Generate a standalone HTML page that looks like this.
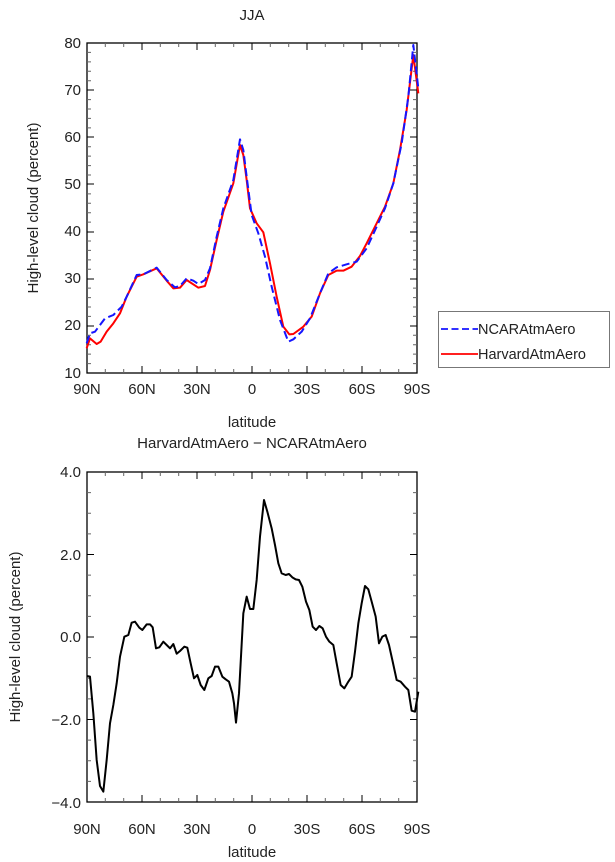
<!DOCTYPE html>
<html><head><style>body{margin:0;background:#fff}svg{display:block}text{font-family:"Liberation Sans",sans-serif;fill:#222}</style></head>
<body>
<svg width="615" height="862" viewBox="0 0 615 862" xmlns="http://www.w3.org/2000/svg">
<g font-size="15">
<text x="252" y="20" text-anchor="middle">JJA</text>
<text x="252" y="448" text-anchor="middle">HarvardAtmAero − NCARAtmAero</text>
<text x="252" y="427" text-anchor="middle">latitude</text>
<text x="252" y="857" text-anchor="middle">latitude</text>
<text transform="translate(38,208) rotate(-90)" text-anchor="middle">High-level cloud (percent)</text>
<text transform="translate(20,637) rotate(-90)" text-anchor="middle">High-level cloud (percent)</text>
<g text-anchor="end">
<text x="81" y="48">80</text><text x="81" y="95">70</text><text x="81" y="142">60</text><text x="81" y="189">50</text><text x="81" y="236">40</text><text x="81" y="283">30</text><text x="81" y="330">20</text><text x="81" y="378">10</text>
<text x="81" y="477">4.0</text><text x="81" y="560">2.0</text><text x="81" y="642">0.0</text><text x="81" y="725">−2.0</text><text x="81" y="808">−4.0</text>
</g>
<g text-anchor="middle">
<text x="87" y="394">90N</text><text x="142" y="394">60N</text><text x="197" y="394">30N</text><text x="252" y="394">0</text><text x="307" y="394">30S</text><text x="362" y="394">60S</text><text x="417" y="394">90S</text>
<text x="87" y="834">90N</text><text x="142" y="834">60N</text><text x="197" y="834">30N</text><text x="252" y="834">0</text><text x="307" y="834">30S</text><text x="362" y="834">60S</text><text x="417" y="834">90S</text>
</g>
</g>
<rect x="87" y="43" width="330" height="330" fill="none" stroke="#000" stroke-width="1.3"/>
<rect x="87" y="472" width="330" height="330" fill="none" stroke="#000" stroke-width="1.3"/>
<g stroke="#000" stroke-width="1">
<path d="M142,373v-7M197,373v-7M252,373v-7M307,373v-7M362,373v-7M142,43v7M197,43v7M252,43v7M307,43v7M362,43v7"/>
<path d="M142,802v-7M197,802v-7M252,802v-7M307,802v-7M362,802v-7M142,472v7M197,472v7M252,472v7M307,472v7M362,472v7"/>
<path d="M87,90h7M87,137h7M87,184h7M87,232h7M87,279h7M87,326h7M417,90h-7M417,137h-7M417,184h-7M417,232h-7M417,279h-7M417,326h-7"/>
<path d="M87,554.5h7M87,637h7M87,719.5h7M417,554.5h-7M417,637h-7M417,719.5h-7"/>
</g>
<g stroke="#666" stroke-width="1">
<path d="M105.3,373v-4M123.7,373v-4M160.3,373v-4M178.7,373v-4M215.3,373v-4M233.7,373v-4M270.3,373v-4M288.7,373v-4M325.3,373v-4M343.7,373v-4M380.3,373v-4M398.7,373v-4M105.3,43v4M123.7,43v4M160.3,43v4M178.7,43v4M215.3,43v4M233.7,43v4M270.3,43v4M288.7,43v4M325.3,43v4M343.7,43v4M380.3,43v4M398.7,43v4"/>
<path d="M105.3,802v-4M123.7,802v-4M160.3,802v-4M178.7,802v-4M215.3,802v-4M233.7,802v-4M270.3,802v-4M288.7,802v-4M325.3,802v-4M343.7,802v-4M380.3,802v-4M398.7,802v-4M105.3,472v4M123.7,472v4M160.3,472v4M178.7,472v4M215.3,472v4M233.7,472v4M270.3,472v4M288.7,472v4M325.3,472v4M343.7,472v4M380.3,472v4M398.7,472v4"/>
<path d="M87,52.4h4M87,61.9h4M87,71.3h4M87,80.7h4M87,99.6h4M87,109h4M87,118.4h4M87,127.9h4M87,146.7h4M87,156.1h4M87,165.6h4M87,175h4M87,193.9h4M87,203.3h4M87,212.7h4M87,222.1h4M87,241h4M87,250.4h4M87,259.9h4M87,269.3h4M87,288.1h4M87,297.6h4M87,307h4M87,316.4h4M87,335.3h4M87,344.7h4M87,354.1h4M87,363.6h4"/>
<path d="M417,52.4h-4M417,61.9h-4M417,71.3h-4M417,80.7h-4M417,99.6h-4M417,109h-4M417,118.4h-4M417,127.9h-4M417,146.7h-4M417,156.1h-4M417,165.6h-4M417,175h-4M417,193.9h-4M417,203.3h-4M417,212.7h-4M417,222.1h-4M417,241h-4M417,250.4h-4M417,259.9h-4M417,269.3h-4M417,288.1h-4M417,297.6h-4M417,307h-4M417,316.4h-4M417,335.3h-4M417,344.7h-4M417,354.1h-4M417,363.6h-4"/>
<path d="M87,492.6h4M87,513.3h4M87,533.9h4M87,575.1h4M87,595.8h4M87,616.4h4M87,657.6h4M87,678.3h4M87,698.9h4M87,740.1h4M87,760.8h4M87,781.4h4M417,492.6h-4M417,513.3h-4M417,533.9h-4M417,575.1h-4M417,595.8h-4M417,616.4h-4M417,657.6h-4M417,678.3h-4M417,698.9h-4M417,740.1h-4M417,760.8h-4M417,781.4h-4"/>
</g>
<g transform="translate(80,30) scale(0.33333)" fill="none" stroke-width="6" stroke-linejoin="round">
<polyline stroke="#f00" points="20,955 30,925 50,942 62,935 80,905 100,880 120,850 140,800 170,740 190,733 230,715 260,752 280,775 300,773 320,750 355,773 375,768 390,720 410,630 430,545 460,460 480,345 490,375 500,450 510,535 530,580 550,607 570,700 590,800 610,890 628,913 640,912 670,890 695,860 720,790 745,735 770,722 790,722 815,710 840,678 860,640 890,580 915,530 940,460 960,360 980,240 1000,75 1015,190"/>
<polyline stroke="#1515ff" stroke-dasharray="24,12" points="20,940 30,910 45,905 75,865 100,855 125,830 140,800 170,735 190,733 230,713 260,750 285,772 300,768 320,745 340,752 355,762 375,750 390,715 410,620 430,535 460,450 480,328 490,360 500,440 515,555 535,610 555,680 575,770 600,870 625,935 640,928 665,905 690,865 720,790 745,730 770,712 800,703 830,695 860,655 890,590 915,535 940,460 965,340 985,200 1000,45 1015,175"/>
</g>
<g transform="translate(80,460) scale(0.33333)" fill="none" stroke-width="6" stroke-linejoin="round">
<polyline stroke="#000" points="20,648 30,650 40,760 50,900 60,978 70,995 80,900 90,790 100,735 110,670 120,590 133,530 145,525 155,488 165,485 178,503 187,510 200,493 210,493 218,502 228,565 238,562 250,545 260,555 270,565 280,552 290,581 300,573 313,560 322,563 332,610 342,655 352,645 362,675 373,690 385,655 395,648 405,620 415,620 427,650 437,658 447,665 457,700 462,730 468,788 477,700 490,460 500,410 510,447 520,447 530,360 540,230 552,120 562,155 575,205 585,255 595,310 605,340 617,345 627,342 637,352 647,358 657,360 667,380 678,425 688,450 698,500 708,510 718,498 728,505 738,530 748,545 760,555 770,610 782,675 793,685 805,665 815,650 825,575 835,490 845,430 855,378 865,388 875,425 887,470 897,550 907,530 917,525 927,555 937,600 950,660 962,665 975,680 985,690 995,752 1005,755 1015,695"/>
</g>
<rect x="438.5" y="311.5" width="171" height="56" fill="none" stroke="#777" stroke-width="1"/>
<line x1="441" y1="329" x2="478" y2="329" stroke="#1515ff" stroke-width="1.8" stroke-dasharray="7,3.5"/>
<line x1="441" y1="354" x2="478" y2="354" stroke="#f00" stroke-width="1.8"/>
<text x="478" y="334" font-size="14.5" fill="#333">NCARAtmAero</text>
<text x="478" y="359" font-size="14.5" fill="#333">HarvardAtmAero</text>
</svg>
</body></html>
